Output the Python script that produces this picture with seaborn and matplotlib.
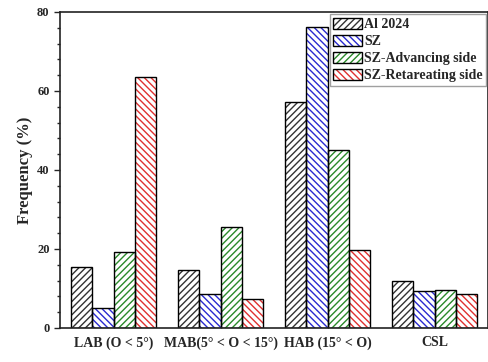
import matplotlib
matplotlib.use('Agg')
import matplotlib.pyplot as plt
from matplotlib.patches import Rectangle
from matplotlib.ticker import MultipleLocator
import seaborn as sns
import pandas as pd

# Datos
categories = ['LAB (O < 5°)', 'MAB(5° < O < 15°)', 'HAB (15° < O)', 'CSL']
series = ['Al 2024', 'SZ', 'SZ-Advancing side', 'SZ-Retareating side']
al2024 = [15.4, 14.7, 57.3, 11.9]
sz = [5.0, 8.6, 76.1, 9.4]
sz_adv = [19.3, 25.5, 45.1, 9.5]
sz_ret = [63.5, 7.3, 19.7, 8.5]

colors = ['#333333', '#2a2ad0', '#2a8a2a', '#e03030']
hatches = ['/////', '\\\\\\\\\\', '/////', '\\\\\\\\\\']

rows = []
for s, vals in zip(series, [al2024, sz, sz_adv, sz_ret]):
    for c, v in zip(categories, vals):
        rows.append({'Category': c, 'Series': s, 'Frequency': v})
df = pd.DataFrame(rows)

sns.set_style('ticks')
plt.rcParams['font.family'] = ['Liberation Serif', 'DejaVu Serif']
plt.rcParams['font.weight'] = 'bold'
plt.rcParams['hatch.linewidth'] = 1.0

fig = plt.figure(figsize=(4.88, 3.62), dpi=100)
ax = fig.add_axes([0.123, 0.094, 0.877, 0.873])

sns.barplot(data=df, x='Category', y='Frequency', hue='Series', order=categories,
            hue_order=series, width=0.8, ax=ax, legend=False)

# Colorear y rayar las barras, con borde negro aparte
for i, s in enumerate(series):
    cont = ax.containers[i]
    for p in cont.patches:
        p.set_facecolor('white')
        p.set_edgecolor(colors[i])
        p.set_hatch(hatches[i])
        p.set_linewidth(0)
        ax.add_patch(Rectangle(p.get_xy(), p.get_width(), p.get_height(),
                               fill=False, edgecolor='black', linewidth=1.0))

# Leyenda
handles = [Rectangle((0, 0), 1, 1, facecolor='white', edgecolor=colors[i],
                     hatch=hatches[i], linewidth=0) for i in range(4)]
outlines = [Rectangle((0, 0), 1, 1, fill=False, edgecolor='black', linewidth=1.0) for i in range(4)]
leg = ax.legend(list(zip(handles, outlines)), series, loc='upper right',
                frameon=True, fancybox=False, handlelength=2.1,
                handleheight=0.9, handletextpad=0.1, borderpad=0.25, labelspacing=0.25,
                borderaxespad=0.15, edgecolor='#888888', prop={'weight': 'bold', 'size': 10})
leg.get_frame().set_linewidth(1.0)

ax.set_ylim(0, 80)
ax.set_xlim(-0.5, 3.5)
ax.yaxis.set_major_locator(MultipleLocator(20))
ax.yaxis.set_minor_locator(MultipleLocator(4))
ax.tick_params(axis='y', which='major', length=4, width=1, labelsize=9)
ax.tick_params(axis='y', which='minor', length=2.5, width=1)
ax.tick_params(axis='x', which='major', length=4, width=1, direction='in', labelsize=10, pad=6)
ax.set_xlabel('')
ax.set_ylabel('Frequency (%)', fontsize=12, fontweight='bold', labelpad=3)
for sp in ax.spines.values():
    sp.set_linewidth(1.2)
    sp.set_color('#222222')

plt.savefig('out.png', dpi=100)
plt.close()
